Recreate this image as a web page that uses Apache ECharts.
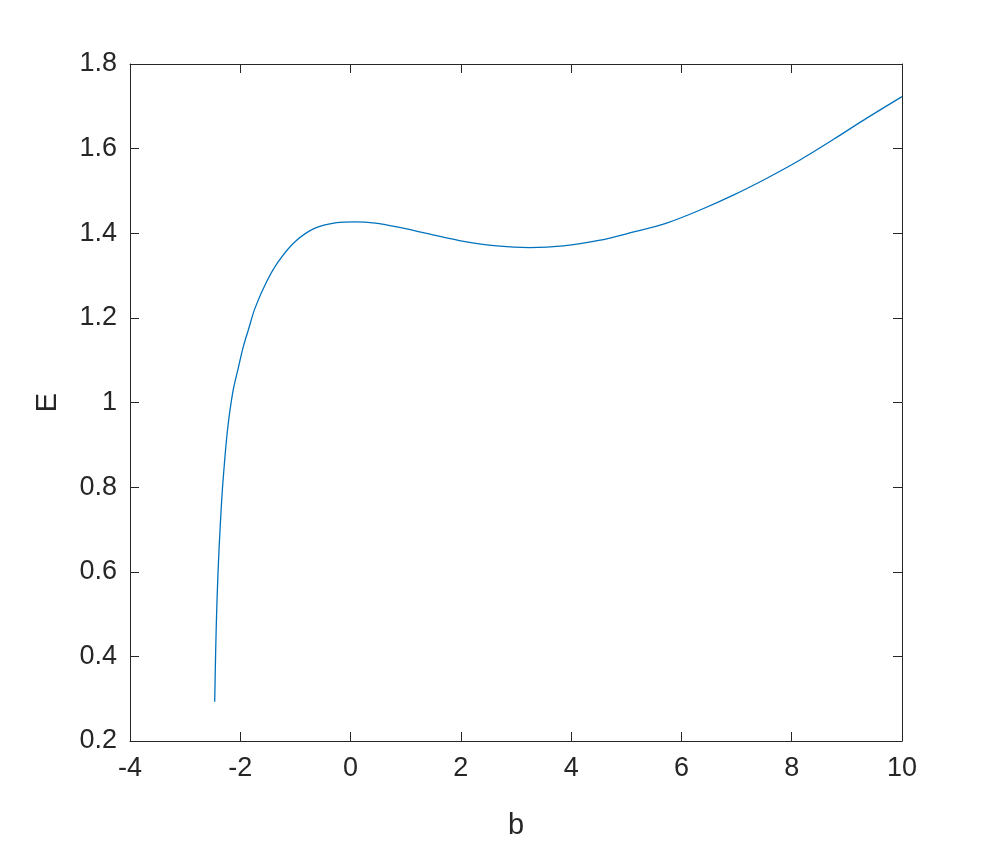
<!DOCTYPE html>
<html>
<head>
<meta charset="utf-8">
<script src="https://cdn.jsdelivr.net/npm/echarts@6/dist/echarts.min.js"></script>
<style>html,body{margin:0;padding:0;background:#fff;}#c{width:997px;height:847px;}</style>
</head>
<body>
<div id="c"></div>
<script>
const bValues = [-2.464, -2.446, -2.422, -2.386, -2.337, -2.298, -2.232, -2.135, -2.036, -1.945, -1.855, -1.733, -1.521, -1.310, -1.008, -0.645, -0.25, 0.08, 0.45, 0.84, 1.44, 2.05, 2.65, 3.25, 3.86, 4.5, 5.1, 5.73, 6.34, 6.94, 7.55, 8.15, 8.76, 9.36, 10.0];
const eValues = [0.293, 0.415, 0.533, 0.651, 0.770, 0.840, 0.935, 1.025, 1.082, 1.132, 1.171, 1.223, 1.286, 1.333, 1.380, 1.412, 1.425, 1.427, 1.424, 1.415, 1.398, 1.381, 1.370, 1.366, 1.370, 1.383, 1.402, 1.424, 1.455, 1.490, 1.530, 1.573, 1.622, 1.672, 1.723];
const xTicks = { min: -4, max: 10, interval: 2 };
const yTicks = { min: 0.2, max: 1.8, interval: 0.2 };

const axisColor = '#262626';
const font = 'Liberation Sans, Arial, Helvetica, sans-serif';
const fmt = v => String(parseFloat(Number(v).toFixed(2)));

const chart = echarts.init(document.getElementById('c'), null, {renderer: 'canvas'});
const baseAxisLine = { show: true, onZero: false, lineStyle: { color: axisColor, width: 1 } };
const baseTick = { show: true, inside: true, length: 9, lineStyle: { color: axisColor, width: 1 } };

chart.setOption({
  animation: false,
  backgroundColor: '#ffffff',
  grid: { left: 130, right: 95, top: 64, bottom: 106, containLabel: false },
  xAxis: [
    {
      type: 'value', position: 'bottom', min: xTicks.min, max: xTicks.max, interval: xTicks.interval,
      axisLine: baseAxisLine, axisTick: baseTick, splitLine: { show: false },
      axisLabel: { color: axisColor, fontSize: 27, fontFamily: font, margin: 14, formatter: fmt },
      name: 'b', nameLocation: 'middle', nameGap: 70,
      nameTextStyle: { color: axisColor, fontSize: 29, fontFamily: font }
    },
    {
      type: 'value', position: 'top', min: xTicks.min, max: xTicks.max, interval: xTicks.interval,
      axisLine: baseAxisLine, axisTick: baseTick, splitLine: { show: false },
      axisLabel: { show: false }
    }
  ],
  yAxis: [
    {
      type: 'value', position: 'left', min: yTicks.min, max: yTicks.max, interval: yTicks.interval,
      axisLine: baseAxisLine, axisTick: baseTick, splitLine: { show: false },
      axisLabel: { color: axisColor, fontSize: 27, fontFamily: font, margin: 13, formatter: fmt },
      name: 'E', nameLocation: 'middle', nameGap: 68,
      nameTextStyle: { color: axisColor, fontSize: 29, fontFamily: font }
    },
    {
      type: 'value', position: 'right', min: yTicks.min, max: yTicks.max, interval: yTicks.interval,
      axisLine: baseAxisLine, axisTick: baseTick, splitLine: { show: false },
      axisLabel: { show: false }
    }
  ],
  series: [{
    type: 'line',
    xAxisIndex: 0, yAxisIndex: 0,
    data: bValues.map((b, i) => [b, eValues[i]]),
    showSymbol: false,
    smooth: 0.3,
    lineStyle: { color: '#0072BD', width: 1.3 },
    itemStyle: { color: '#0072BD' }
  }]
});
</script>
</body>
</html>
